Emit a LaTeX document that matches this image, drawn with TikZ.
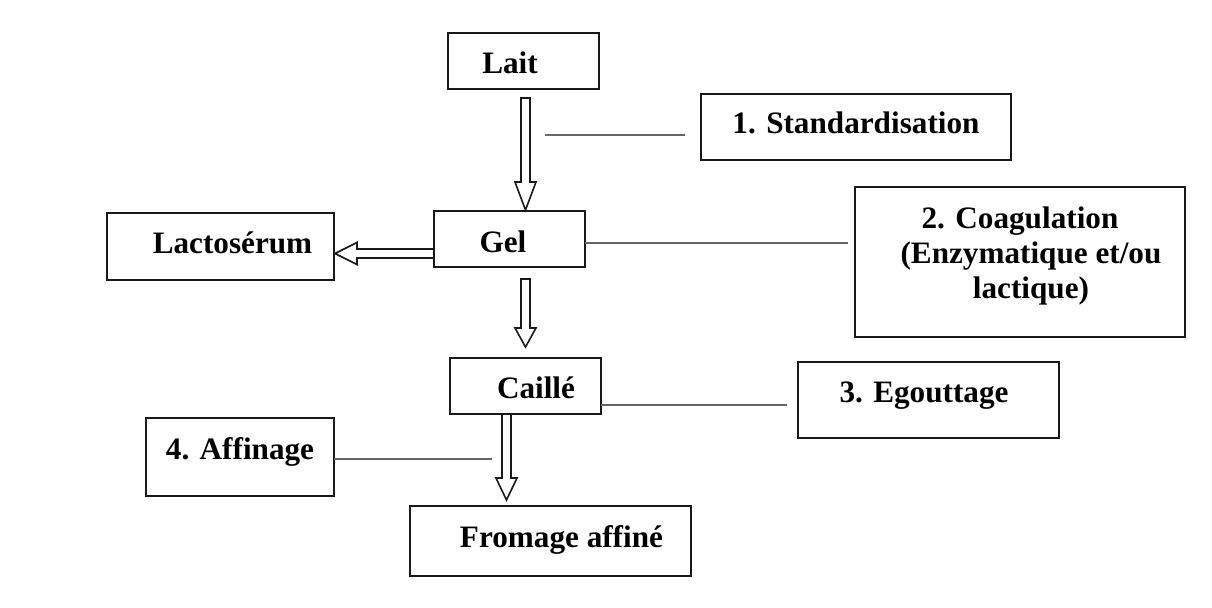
\documentclass[tikz,border=0pt]{standalone}
\usepackage{fontspec}
\setmainfont{Liberation Serif}
\usetikzlibrary{calc}
\newcommand\tsh[3]{\raisebox{#2}{\makebox[0pt]{\hspace*{#1}\hspace*{#1}#3}}}
\newcommand\vharrow[3]{\draw[hollow] ($(#1)+(-4.5,0)$) -- ($(#2)+(-4.5,-#3)$) -- ($(#2)+(-10.5,-#3)$) -- (#2) -- ($(#2)+(10.5,-#3)$) -- ($(#2)+(4.5,-#3)$) -- ($(#1)+(4.5,0)$) -- cycle;}
\begin{document}
\begin{tikzpicture}[x=0.5pt,y=-0.5pt,
 box/.style={draw=black!90, line width=1pt, inner sep=0pt, outer sep=0pt, text height=10.4pt, text depth=0pt, font=\fontsize{15.6pt}{17.5pt}\selectfont\bfseries},
 hollow/.style={draw=black!90, line width=0.8pt, fill=white, line join=miter},
 conn/.style={draw=black!60, line width=0.6pt}]
\useasboundingbox[fill=white] (0,0) rectangle (1212,608);

\node[box, minimum width=75.5pt, minimum height=28pt] (lait) at (523.5,61) {\tsh{-6.75pt}{-1pt}{Lait}};
\node[box, minimum width=155pt, minimum height=33pt] (std) at (856,127) {\tsh{0pt}{2pt}{1. Standardisation}};
\node[box, minimum width=165pt, minimum height=75pt] (coag) at (1020,262) {\tsh{0pt}{4.5pt}{\begin{tabular}{@{}c@{}}2. Coagulation\\\hspace*{11pt}(Enzymatique et/ou\\\hspace*{11pt}lactique)\end{tabular}}};
\node[box, minimum width=113.5pt, minimum height=33.5pt] (lacto) at (220.5,246.5) {\tsh{6pt}{1.5pt}{Lactosérum}};
\node[box, minimum width=75.5pt, minimum height=28pt] (gel) at (509.5,239) {\tsh{-3.25pt}{-1.75pt}{Gel}};
\node[box, minimum width=75.5pt, minimum height=28pt] (caille) at (525.5,386) {\tsh{5.25pt}{-1pt}{Caillé}};
\node[box, minimum width=130.5pt, minimum height=38pt] (egout) at (928.5,400) {\tsh{-2.25pt}{4pt}{3. Egouttage}};
\node[box, minimum width=94pt, minimum height=39pt] (affin) at (240,457) {\tsh{0pt}{4pt}{4. Affinage}};
\node[box, minimum width=140.5pt, minimum height=35pt] (fromage) at (550.5,541) {\tsh{5.5pt}{2pt}{Fromage affiné}};

% hollow arrows
\coordinate (a1s) at ($(lait.south)+(2,9)$);
\coordinate (a1t) at ($(a1s|-gel.north)+(0,-1)$);
\vharrow{a1s}{a1t}{28}
\coordinate (a3s) at ($(gel.south)+(16,12)$);
\coordinate (a3t) at ($(a3s|-caille.north)+(0,-11)$);
\vharrow{a3s}{a3t}{19}
\coordinate (a4s) at ($(caille.south)+(-19,0)$);
\coordinate (a4t) at ($(a4s|-fromage.north)+(0,-6)$);
\vharrow{a4s}{a4t}{22}
\coordinate (a2s) at ($(gel.west)+(0,14.5)$);
\coordinate (a2t) at ($(lacto.east|-a2s)+(1,0)$);
\draw[hollow] ($(a2s)+(0,-4.5)$) -- ($(a2t)+(22,-4.5)$) -- ($(a2t)+(22,-11)$) -- (a2t) -- ($(a2t)+(22,11)$) -- ($(a2t)+(22,4.5)$) -- ($(a2s)+(0,4.5)$) -- cycle;

% thin connector lines
\coordinate (l1a) at ($(a1s)+(19.5,37)$);
\coordinate (l1b) at ($(std.west)+(-16,0)$);
\draw[conn] (l1a) -- (l1a-|l1b);
\coordinate (l2a) at ($(gel.east)+(0,4)$);
\coordinate (l2b) at ($(coag.west)+(-7,0)$);
\draw[conn] (l2a) -- (l2a-|l2b);
\coordinate (l3a) at ($(caille.east)+(0,19)$);
\coordinate (l3b) at ($(egout.west)+(-11,0)$);
\draw[conn] (l3a) -- (l3a-|l3b);
\coordinate (l4a) at ($(affin.east)+(0,2)$);
\coordinate (l4b) at ($(a4s)+(-14.5,0)$);
\draw[conn] (l4a) -- (l4a-|l4b);
\end{tikzpicture}
\end{document}
